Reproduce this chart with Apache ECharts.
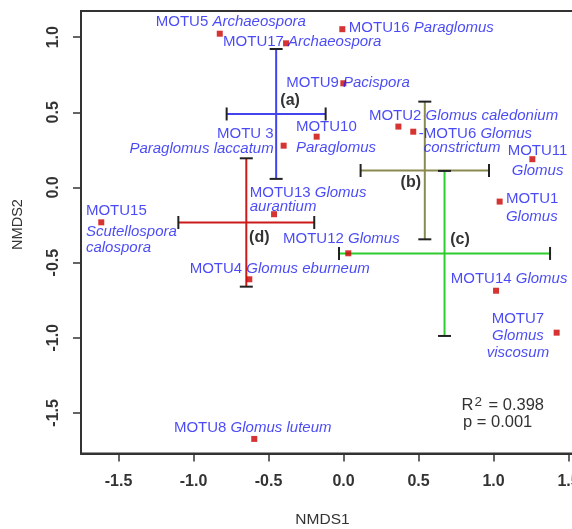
<!DOCTYPE html>
<html>
<head>
<meta charset="utf-8">
<script src="https://cdn.jsdelivr.net/npm/echarts@6/dist/echarts.min.js"></script>
<style>html,body{margin:0;padding:0;background:#fff}#c{width:572px;height:529px}</style>
</head>
<body>
<div id="c"></div>
<script>
// ---- data ----
const pointNames = ['MOTU5','MOTU17','MOTU16','MOTU9','MOTU2','MOTU6','MOTU11','MOTU1','MOTU10','MOTU 3','MOTU13','MOTU15','MOTU12','MOTU4','MOTU14','MOTU7','MOTU8'];
const taxa = ['Archaeospora','Archaeospora','Paraglomus','Pacispora','Glomus caledonium','Glomus constrictum','Glomus','Glomus','Paraglomus','Paraglomus laccatum','Glomus aurantium','Scutellospora calospora','Glomus','Glomus eburneum','Glomus','Glomus viscosum','Glomus luteum'];
const nmds1 = [-0.825,-0.383,-0.008,-0.001,0.366,0.465,1.259,1.041,-0.179,-0.399,-0.463,-1.615,0.032,-0.628,1.017,1.421,-0.595];
const nmds2 = [1.023,0.959,1.053,0.693,0.405,0.371,0.188,-0.094,0.338,0.278,-0.178,-0.232,-0.438,-0.611,-0.687,-0.966,-1.673];

const groupNames = ['(a)','(b)','(c)','(d)'];
const groupX = [-0.449,0.542,0.6735,-0.648];
const groupY = [0.489,0.113,-0.439,-0.233];
const groupSdX = [0.33,0.428,0.7035,0.453];
const groupSdY = [0.432,0.458,0.549,0.427];

const xTicks = [-1.5,-1.0,-0.5,0.0,0.5,1.0,1.5];
const yTicks = [-1.5,-1.0,-0.5,0.0,0.5,1.0];
const statLines = ['R2 = 0.398','p = 0.001'];

// ---- styling / layout ----
const FONT = 'Liberation Sans, Arial, sans-serif';
const TXT = '#1c1cf2';
const groupColors = ['#4444ee','#8a8a50','#2ecc2e','#cc1a1a'];
const groupLabelOffset = [[14,-13],[-14,12],[15.5,-13.5],[13,15]];
// label layout: dx, dy (px from point), align, lineHeight, breaks after token index
const labelLayout = {
  'MOTU5':  {dx:-64, dy:-11.7, align:'left', lh:16, brk:[]},
  'MOTU17': {dx:-63, dy:-1, align:'left', lh:16, brk:[]},
  'MOTU16': {dx:6.5, dy:-1, align:'left', lh:16, brk:[]},
  'MOTU9':  {dx:-57, dy:-0.6, align:'left', lh:16, brk:[]},
  'MOTU2':  {dx:-29.5, dy:-10.7, align:'left', lh:16, brk:[]},
  'MOTU6':  {dx:5.5, dy:9.2, align:'left', lh:14, brk:[1], dash:true},
  'MOTU11': {dx:5.2, dy:1.4, align:'center', lh:20, brk:[0]},
  'MOTU1':  {dx:6.3, dy:6.3, align:'left', lh:17.4, brk:[0]},
  'MOTU10': {dx:-20.7, dy:1.1, align:'left', lh:21, brk:[0]},
  'MOTU 3': {dx:-10, dy:-4, align:'right', lh:15, brk:[0]},
  'MOTU13': {dx:-24.3, dy:-14.3, align:'left', lh:14.6, brk:[1]},
  'MOTU15': {dx:-15.3, dy:4.7, align:'left', lh:16.4, lh0:26, brk:[0,1]},
  'MOTU12': {dx:-65.3, dy:-14, align:'left', lh:16, brk:[]},
  'MOTU4':  {dx:-59.6, dy:-10, align:'left', lh:16, brk:[]},
  'MOTU14': {dx:-45.3, dy:-11.4, align:'left', lh:16, brk:[]},
  'MOTU7':  {dx:-38.7, dy:3.1, align:'center', lh:17, brk:[0,1]},
  'MOTU8':  {dx:-80.3, dy:-11.3, align:'left', lh:16, brk:[]}
};

function buildLabel(i) {
  const name = pointNames[i];
  const L = labelLayout[name];
  const tokens = [name].concat(taxa[i].split(' '));
  let s = L.dash ? '{d|-}' : '';
  tokens.forEach((t, k) => {
    s += (k === 0 ? '{n|' : '{i|') + t + '}';
    if (k < tokens.length - 1) {
      if (L.brk.indexOf(k) >= 0) { s += '\n' + (L.dash ? '{p|}' : ''); }
      else s += '{i| }';
    }
  });
  const base = {fontFamily: FONT, fontSize: 15, color: TXT, textBorderWidth: 0, lineHeight: L.lh};
  return {
    show: true, position: 'inside', align: L.align, verticalAlign: 'middle',
    offset: [L.dx, L.dy], formatter: s, textBorderWidth: 0, color: TXT,
    rich: {
      n: Object.assign({}, base, {lineHeight: L.lh0 || L.lh}),
      i: Object.assign({}, base, {fontStyle: 'italic'}),
      d: Object.assign({}, base),
      p: Object.assign({}, base, {width: 5})
    }
  };
}

const pointData = pointNames.map((n, i) => ({name: n, value: [nmds1[i], nmds2[i]], label: buildLabel(i)}));
const groupData = groupNames.map((g, i) => [groupX[i], groupY[i], groupSdX[i], groupSdY[i]]);

const chart = echarts.init(document.getElementById('c'), null, {renderer: 'canvas'});
const tickLabel = {fontFamily: FONT, fontSize: 16, fontWeight: 'bold', color: '#333'};
chart.setOption({
  animation: false,
  backgroundColor: '#fff',
  grid: {left: 81, top: 11, right: -4, bottom: 75.5, show: true, borderColor: '#333', borderWidth: 2, outerBoundsMode: 'none', containLabel: false},
  xAxis: {
    type: 'value', min: -1.75, max: 1.55,
    axisLine: {show: true, onZero: false, lineStyle: {color: '#333', width: 2}}, splitLine: {show: false},
    axisTick: {show: true, inside: false, length: 8, customValues: xTicks, lineStyle: {color: '#333', width: 1.5}},
    axisLabel: Object.assign({customValues: xTicks, margin: 20, formatter: v => v.toFixed(1)}, tickLabel),
    name: 'NMDS1', nameLocation: 'middle', nameGap: 58,
    nameTextStyle: {fontFamily: FONT, fontSize: 15.5, color: '#333', padding: [0, 12, 0, 0]}
  },
  yAxis: {
    type: 'value', min: -1.77, max: 1.174,
    axisLine: {show: true, onZero: false, lineStyle: {color: '#333', width: 2}}, splitLine: {show: false},
    axisTick: {show: true, inside: false, length: 8, customValues: yTicks, lineStyle: {color: '#333', width: 1.5}},
    axisLabel: Object.assign({customValues: yTicks, margin: 19, rotate: 90, formatter: v => v.toFixed(1)}, tickLabel),
    name: 'NMDS2', nameLocation: 'middle', nameGap: 56, nameRotate: 90,
    nameTextStyle: {fontFamily: FONT, fontSize: 14.5, color: '#333', padding: [0, 0, 0, 15.5]}
  },
  series: [
    {
      type: 'custom', z: 2, data: groupData, encode: {x: 0, y: 1},
      renderItem: function (params, api) {
        const i = params.dataIndex;
        const x = api.value(0), y = api.value(1), sx = api.value(2), sy = api.value(3);
        const c = api.coord([x, y]);
        const l = api.coord([x - sx, y]), r = api.coord([x + sx, y]);
        const t = api.coord([x, y + sy]), b = api.coord([x, y - sy]);
        const col = groupColors[i];
        const cap = 6.5;
        const ln = (x1, y1, x2, y2, color) => ({type: 'line', shape: {x1, y1, x2, y2}, style: {stroke: color, lineWidth: 2}});
        return {
          type: 'group',
          children: [
            ln(l[0], l[1], r[0], r[1], col),
            ln(t[0], t[1], b[0], b[1], col),
            ln(l[0], l[1] - cap, l[0], l[1] + cap, '#222'),
            ln(r[0], r[1] - cap, r[0], r[1] + cap, '#222'),
            ln(t[0] - cap, t[1], t[0] + cap, t[1], '#222'),
            ln(b[0] - cap, b[1], b[0] + cap, b[1], '#222'),
            {type: 'text', x: c[0] + groupLabelOffset[i][0], y: c[1] + groupLabelOffset[i][1],
             style: {text: groupNames[i], fill: '#333', font: 'bold 16px ' + FONT, align: 'center', verticalAlign: 'middle'}}
          ]
        };
      }
    },
    {
      type: 'scatter', z: 3, symbol: 'rect', symbolSize: 6,
      itemStyle: {color: '#cc0000'},
      data: pointData,
      emphasis: {disabled: true}
    }
  ],
  graphic: [
    {type: 'text', x: 461.5, y: 404.5, z: 10,
     style: {text: '{r|R}{s|' + statLines[0].charAt(1) + '}{r|' + statLines[0].slice(2) + '}', align: 'left', verticalAlign: 'middle',
       rich: {r: {fontFamily: FONT, fontSize: 16.5, fill: '#333', lineHeight: 18, verticalAlign: 'bottom'},
              s: {fontFamily: FONT, fontSize: 13.5, fill: '#333', lineHeight: 18, verticalAlign: 'top', padding: [0, 2, 6, 1]}}}},
    {type: 'text', x: 463, y: 422.7, z: 10,
     style: {text: statLines[1], fill: '#333', font: '16.5px ' + FONT, align: 'left', verticalAlign: 'middle'}}
  ]
});
</script>
</body>
</html>
